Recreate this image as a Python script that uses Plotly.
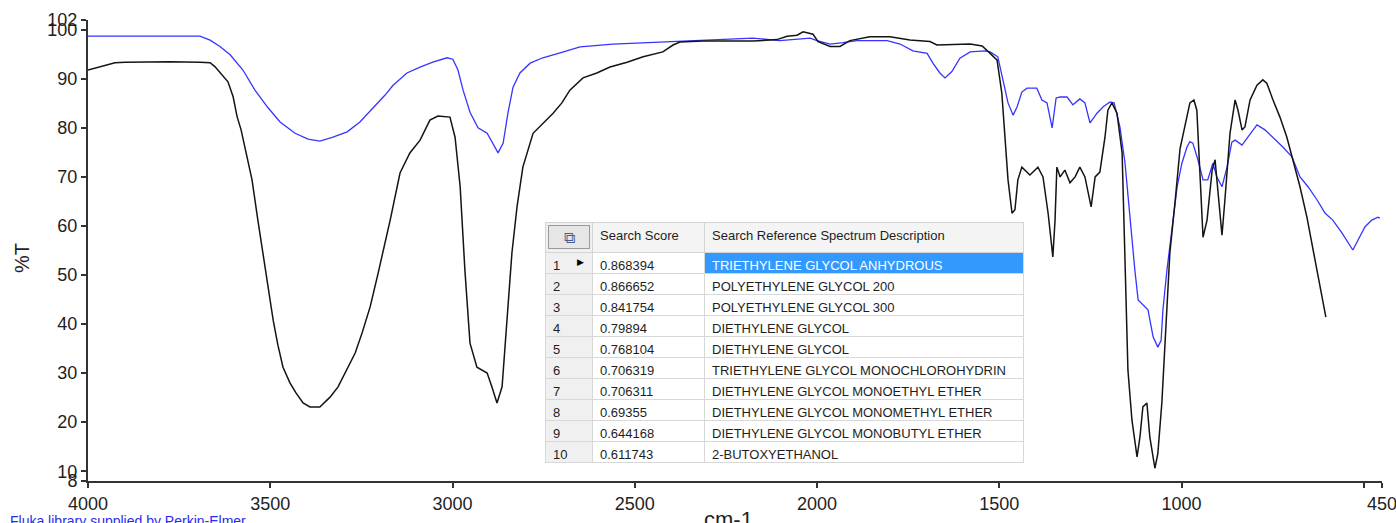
import plotly.graph_objects as go

# ---- spectra (wavenumber in cm-1, transmittance in %T) ----
sample_wn = [4000, 3967, 3953, 3926, 3898, 3844, 3775, 3693, 3665, 3652, 3632, 3616, 3602, 3591,
             3580, 3567, 3550, 3534, 3520, 3506, 3492, 3479, 3465, 3446, 3429, 3410, 3391, 3364,
             3336, 3314, 3295, 3267, 3248, 3226, 3204, 3185, 3171, 3144, 3117, 3089, 3062, 3040,
             3007, 2993, 2979, 2966, 2952, 2933, 2905, 2892, 2878, 2864, 2851, 2837, 2823, 2807,
             2779, 2752, 2724, 2700, 2678, 2642, 2604, 2568, 2521, 2477, 2423, 2395, 2376, 2313,
             2176, 2110, 2082, 2055, 2038, 2011, 1997, 1964, 1937, 1910, 1855, 1800, 1745, 1690,
             1671, 1580, 1547, 1525, 1506, 1493, 1484, 1476, 1465, 1457, 1449, 1438, 1416, 1394,
             1380, 1366, 1353, 1347, 1342, 1333, 1320, 1306, 1292, 1279, 1265, 1248, 1237, 1224,
             1210, 1202, 1191, 1177, 1163, 1155, 1147, 1136, 1122, 1114, 1106, 1095, 1087, 1073,
             1065, 1054, 1045, 1032, 1018, 1004, 990, 977, 966, 958, 949, 941, 930, 916, 908, 900,
             889, 881, 867, 853, 845, 834, 826, 812, 793, 777, 766, 749, 730, 711, 694, 675, 656,
             639, 620, 604]
sample_t = [91.8, 92.5, 92.8, 93.3, 93.4, 93.5, 93.5, 93.4, 93.3, 92.5, 90.8, 89.4, 86.4, 82.3,
            79.6, 74.9, 69.4, 61.2, 54.5, 47.6, 40.8, 35.7, 31.2, 28.0, 25.9, 23.9, 23.1, 23.1,
            25.1, 27.2, 30.0, 34.1, 38.2, 43.5, 50.4, 56.5, 61.2, 70.8, 74.9, 77.5, 81.6, 82.4,
            82.2, 78.1, 68.0, 51.0, 36.1, 31.2, 30.0, 27.2, 23.9, 27.2, 40.8, 54.5, 63.9, 72.0,
            78.9, 81.0, 83.0, 85.1, 87.7, 90.2, 91.2, 92.4, 93.4, 94.5, 95.5, 96.9, 97.5, 97.7,
            97.7, 98.0, 98.7, 98.9, 99.6, 99.1, 97.6, 96.6, 96.6, 97.8, 98.6, 98.6, 97.9, 97.6,
            96.9, 97.1, 96.7, 95.2, 93.8, 87.1, 78.1, 69.4, 62.6, 63.3, 69.4, 72.0, 70.4, 72.0,
            70.0, 62.6, 53.7, 61.2, 72.0, 70.0, 71.4, 68.8, 70.0, 72.0, 70.0, 63.9, 70.0, 71.0,
            78.1, 83.6, 85.1, 83.0, 74.9, 54.5, 30.6, 20.4, 12.9, 17.0, 23.1, 23.9, 17.0, 10.6,
            13.6, 23.9, 37.4, 54.5, 64.7, 75.8, 80.6, 85.1, 85.7, 83.6, 70.0, 57.7, 61.2, 71.4,
            73.5, 66.7, 58.1, 65.3, 78.9, 85.7, 83.6, 79.6, 80.2, 85.7, 88.7, 89.8, 89.1, 85.7,
            82.2, 78.1, 73.5, 68.0, 61.8, 55.1, 47.6, 41.4]

reference_wn = [4000, 3693, 3665, 3638, 3610, 3575, 3542, 3506, 3473, 3432, 3396, 3364, 3328,
                3289, 3254, 3218, 3199, 3185, 3163, 3125, 3089, 3054, 3015, 2999, 2985, 2971,
                2952, 2930, 2905, 2889, 2875, 2861, 2848, 2834, 2815, 2787, 2752, 2705, 2650,
                2560, 2466, 2376, 2176, 2102, 2019, 2000, 1964, 1929, 1890, 1808, 1772, 1737,
                1698, 1682, 1663, 1649, 1630, 1608, 1580, 1539, 1525, 1504, 1490, 1476, 1462,
                1451, 1438, 1424, 1397, 1383, 1369, 1355, 1344, 1333, 1314, 1298, 1279, 1265,
                1251, 1232, 1215, 1196, 1185, 1169, 1155, 1141, 1128, 1119, 1106, 1092, 1078,
                1065, 1056, 1051, 1040, 1026, 1012, 999, 985, 977, 969, 955, 941, 928, 914, 903,
                889, 875, 862, 853, 834, 818, 793, 771, 749, 722, 697, 675, 653, 628, 606, 585,
                560, 543, 530, 516, 497, 478, 461, 456]
reference_t = [98.7, 98.7, 97.9, 96.6, 94.9, 91.8, 87.7, 84.1, 81.2, 78.9, 77.7, 77.3, 78.1,
               79.2, 81.2, 84.1, 85.5, 86.7, 88.7, 91.2, 92.4, 93.4, 94.3, 94.0, 91.8, 87.7,
               83.2, 80.0, 78.9, 76.9, 74.9, 76.9, 83.0, 88.3, 91.2, 93.2, 94.3, 95.3, 96.5,
               97.1, 97.4, 97.8, 98.3, 97.8, 98.3, 97.8, 97.1, 97.4, 97.8, 97.8, 97.1, 95.7,
               95.2, 93.2, 91.2, 90.2, 91.5, 94.2, 95.5, 95.7, 95.5, 94.5, 89.8, 85.1, 82.6,
               84.3, 87.3, 88.1, 88.1, 85.7, 85.1, 80.0, 86.1, 86.3, 86.3, 84.7, 85.9, 85.1,
               81.0, 83.0, 84.3, 85.3, 85.1, 80.2, 72.8, 61.2, 51.0, 44.9, 43.9, 42.9, 37.4,
               35.3, 36.7, 42.9, 51.0, 59.8, 68.0, 72.8, 76.1, 77.2, 76.9, 73.5, 69.4, 69.4,
               72.8, 70.0, 68.0, 72.0, 77.1, 77.5, 76.5, 78.1, 80.6, 79.6, 78.1, 76.1, 74.1,
               70.0, 68.0, 65.3, 62.6, 61.2, 58.6, 56.7, 55.1, 57.1, 59.8, 61.2, 61.8, 61.6]

# ---- library search hits ----
hit_rank = [1, 2, 3, 4, 5, 6, 7, 8, 9, 10]
hit_score = [0.868394, 0.866652, 0.841754, 0.79894, 0.768104, 0.706319, 0.706311, 0.69355,
             0.644168, 0.611743]
hit_name = ["TRIETHYLENE GLYCOL ANHYDROUS", "POLYETHYLENE GLYCOL 200", "POLYETHYLENE GLYCOL 300",
            "DIETHYLENE GLYCOL", "DIETHYLENE GLYCOL", "TRIETHYLENE GLYCOL MONOCHLOROHYDRIN",
            "DIETHYLENE GLYCOL MONOETHYL ETHER", "DIETHYLENE GLYCOL MONOMETHYL ETHER",
            "DIETHYLENE GLYCOL MONOBUTYL ETHER", "2-BUTOXYETHANOL"]

# ---- axis ticks ----
x_ticks = [4000, 3500, 3000, 2500, 2000, 1500, 1000, 500, 450]
x_tick_text = ["4000", "3500", "3000", "2500", "2000", "1500", "1000", "", "450"]
y_ticks = [8, 10, 20, 30, 40, 50, 60, 70, 80, 90, 100, 102]

FONT = "Liberation Sans, Arial, sans-serif"
TEXT = "#1e1e1e"

# plot-area geometry in pixels (used to place the table and labels)
W, H = 1396, 523
L, R, T, B = 88, 14, 20, 42
PW, PH = W - L - R, H - T - B


def px_x(x):
    return (x - L) / PW


def px_y(y):
    return (H - B - y) / PH


fig = go.Figure()

fig.add_trace(go.Scatter(x=reference_wn, y=reference_t, mode="lines",
                         line=dict(color="#3535FF", width=1.3), showlegend=False,
                         name="TRIETHYLENE GLYCOL ANHYDROUS"))
fig.add_trace(go.Scatter(x=sample_wn, y=sample_t, mode="lines",
                         line=dict(color="#141414", width=1.5), showlegend=False,
                         name="Sample"))

n = len(hit_rank)
sel = "#3399FF"
fig.add_trace(go.Table(
    domain=dict(x=[px_x(545), px_x(1023)], y=[px_y(468), px_y(222)]),
    columnwidth=[47, 112, 319],
    header=dict(
        values=["", "Search Score", "Search Reference Spectrum Description"],
        fill_color=["#F0F0F0", "#F4F4F4", "#F4F4F4"],
        line=dict(color="#D5D5D5", width=1),
        align="left",
        height=30,
        font=dict(family=FONT, size=13, color=TEXT),
    ),
    cells=dict(
        values=[[str(r) for r in hit_rank], [str(s) for s in hit_score], hit_name],
        fill_color=[["#F0F0F0"] * n, ["white"] * n, [sel] + ["white"] * (n - 1)],
        line=dict(color="#D8D8D8", width=1),
        align="left",
        height=21,
        font=dict(family=FONT, size=13,
                  color=[[TEXT] * n, [TEXT] * n, ["white"] + [TEXT] * (n - 1)]),
    ),
))

annotations = [
    # column-chooser button in the table corner
    dict(x=px_x(569), y=px_y(237), xref="paper", yref="paper", text="⧉",
         showarrow=False, width=40, height=22, bgcolor="#E6E6E6",
         bordercolor="#9A9A9A", borderwidth=1, borderpad=0,
         font=dict(family="DejaVu Sans", size=16, color="#4A5A8A")),
    # current-row marker
    dict(x=px_x(580), y=px_y(262), xref="paper", yref="paper", text="▶",
         showarrow=False, font=dict(family="DejaVu Sans", size=9, color="black")),
    dict(x=px_x(728), y=px_y(505), xref="paper", yref="paper", text="cm-1",
         xanchor="center", yanchor="top", showarrow=False,
         font=dict(family=FONT, size=22, color=TEXT)),
    dict(x=px_x(22), y=px_y(258), xref="paper", yref="paper", text="%T", textangle=-90,
         xanchor="center", yanchor="middle", showarrow=False,
         font=dict(family=FONT, size=20, color=TEXT)),
    dict(x=px_x(8), y=px_y(511), xref="paper", yref="paper",
         text="Fluka library supplied by Perkin-Elmer", xanchor="left", yanchor="top",
         showarrow=False, font=dict(family=FONT, size=14, color="#2B2BF0")),
]

fig.update_layout(
    width=W, height=H,
    margin=dict(l=L, r=R, t=T, b=B, autoexpand=False),
    paper_bgcolor="white", plot_bgcolor="white",
    font=dict(family=FONT, size=18, color=TEXT),
    annotations=annotations,
    xaxis=dict(range=[4000, 450], tickvals=x_ticks, ticktext=x_tick_text,
               showgrid=False, zeroline=False, showline=True, linecolor="#333333",
               linewidth=2, ticks="outside", ticklen=5, tickwidth=1.5, tickcolor="#333333",
               ticklabeloverflow="allow", automargin=False,
               tickfont=dict(family=FONT, size=18, color=TEXT)),
    yaxis=dict(range=[8, 102], tickvals=y_ticks, showgrid=False, zeroline=False,
               showline=True, linecolor="#333333", linewidth=2, ticks="outside",
               ticklen=5, tickwidth=1.5, tickcolor="#333333", automargin=False,
               tickfont=dict(family=FONT, size=18, color=TEXT)),
)

fig.write_html("out.html")
